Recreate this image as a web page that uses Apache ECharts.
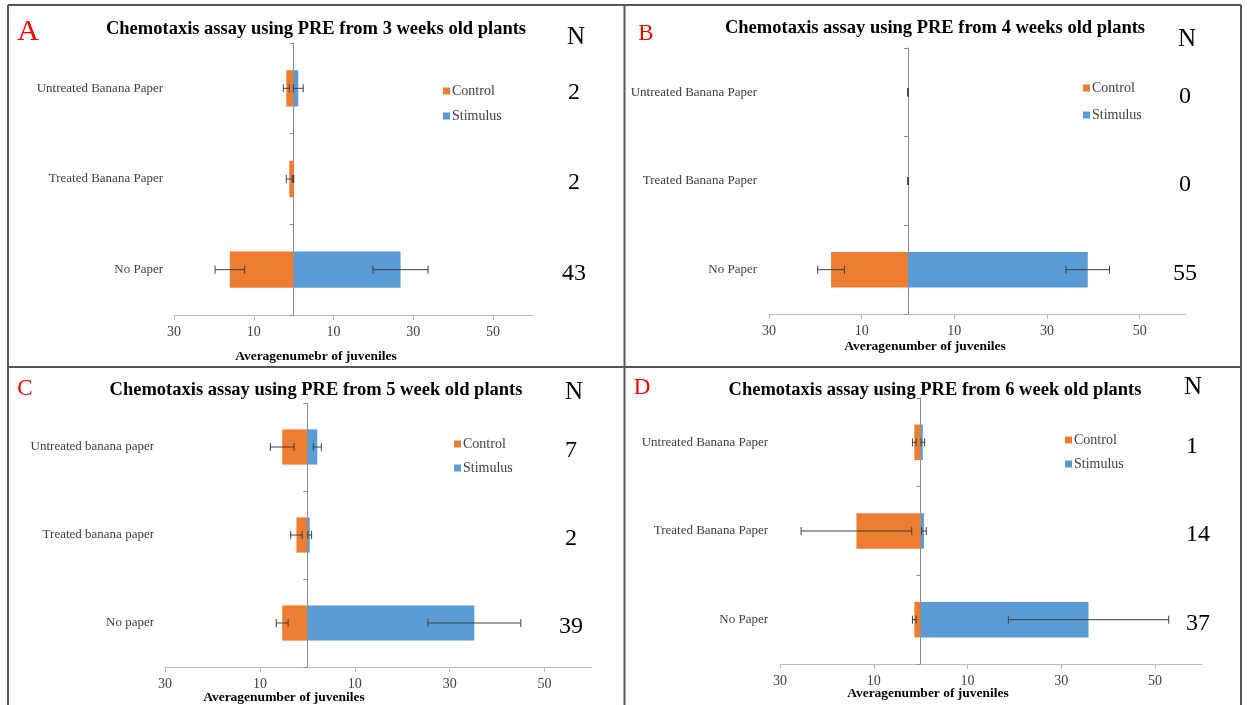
<!DOCTYPE html>
<html>
<head>
<meta charset="utf-8">
<script src="https://cdn.jsdelivr.net/npm/echarts@6/dist/echarts.min.js"></script>
<style>html,body{margin:0;padding:0;background:#fff}#c{width:1247px;height:705px}</style>
</head>
<body>
<div id="c"></div>
<script>
// ---------- DATA ----------
const categoriesCaps = ['Untreated Banana Paper', 'Treated Banana Paper', 'No Paper'];
const categoriesLower = ['Untreated banana paper', 'Treated banana paper', 'No paper'];
const tickValues = [-30, -10, 10, 30, 50];
const seriesNames = ['Control', 'Stimulus'];

// Panel A: 3 weeks
const controlA = [1.85, 1.1, 16.0];
const controlErrA = [0.75, 0.75, 3.7];
const stimulusA = [1.15, 0, 26.8];
const stimulusErrA = [1.25, 0, 6.9];
const nA = [2, 2, 43];

// Panel B: 4 weeks
const controlB = [0, 0, 16.6];
const controlErrB = [0, 0, 2.9];
const stimulusB = [0, 0, 38.8];
const stimulusErrB = [0, 0, 4.7];
const nB = [0, 0, 55];

// Panel C: 5 weeks
const controlC = [5.3, 2.3, 5.3];
const controlErrC = [2.5, 1.2, 1.25];
const stimulusC = [2.1, 0.5, 35.2];
const stimulusErrC = [0.85, 0.4, 9.8];
const nC = [7, 2, 39];

// Panel D: 6 weeks
const controlD = [1.35, 13.7, 1.35];
const controlErrD = [0.4, 11.8, 0.4];
const stimulusD = [0.45, 0.7, 35.8];
const stimulusErrD = [0.4, 0.5, 17.1];
const nD = [1, 14, 37];

// ---------- LAYOUT / STYLE ----------
const SERIF = '"Liberation Serif", "Times New Roman", serif';
const ORANGE = '#ED7D31', BLUE = '#5B9BD5';

const panels = [
  { letter: 'A', title: 'Chemotaxis assay using PRE from 3 weeks old plants', axisName: 'Averagenumebr of juveniles',
    cats: categoriesCaps, control: controlA, controlErr: controlErrA, stimulus: stimulusA, stimulusErr: stimulusErrA, n: nA,
    grid: { left: 174, top: 43, width: 359, height: 272 },
    letterPos: [28, 32, 30], titlePos: [316, 29], namePos: [316, 357], nHead: [576, 37],
    nX: 574, nAlign: 'center', legend: { left: 443, top: 84, gap: 11 }, catMargin: 11 },
  { letter: 'B', title: 'Chemotaxis assay using PRE from 4 weeks old plants', axisName: 'Averagenumber of juveniles',
    cats: categoriesCaps, control: controlB, controlErr: controlErrB, stimulus: stimulusB, stimulusErr: stimulusErrB, n: nB,
    grid: { left: 769, top: 48, width: 417, height: 266 },
    letterPos: [646, 34, 23], titlePos: [935, 28], namePos: [925, 347], nHead: [1187, 39],
    nX: 1185, nAlign: 'center', legend: { left: 1083, top: 81, gap: 13 }, catMargin: 12 },
  { letter: 'C', title: 'Chemotaxis assay using PRE from 5 week old plants', axisName: 'Averagenumber of juveniles',
    cats: categoriesLower, control: controlC, controlErr: controlErrC, stimulus: stimulusC, stimulusErr: stimulusErrC, n: nC,
    grid: { left: 165, top: 403, width: 427, height: 264 },
    letterPos: [25, 389, 23], titlePos: [316, 390], namePos: [284, 698], nHead: [574, 392],
    nX: 571, nAlign: 'center', legend: { left: 454, top: 437, gap: 10 }, catMargin: 11 },
  { letter: 'D', title: 'Chemotaxis assay using PRE from 6 week old plants', axisName: 'Averagenumber of juveniles',
    cats: categoriesCaps, control: controlD, controlErr: controlErrD, stimulus: stimulusD, stimulusErr: stimulusErrD, n: nD,
    grid: { left: 780, top: 398, width: 422, height: 266 },
    letterPos: [642, 388, 23], titlePos: [935, 390], namePos: [928, 694], nHead: [1193, 387],
    nX: 1186, nAlign: 'left', legend: { left: 1065, top: 433, gap: 10 }, catMargin: 12 }
];

function errRender(params, api) {
  const v = api.value(0), i = api.value(1), e = api.value(2);
  const p1 = api.coord([v - e, i]);
  const p2 = api.coord([v + e, i]);
  const h = 4;
  const style = { stroke: '#404040', lineWidth: 1 };
  return {
    type: 'group',
    children: [
      { type: 'line', shape: { x1: p1[0], y1: p1[1], x2: p2[0], y2: p2[1] }, style },
      { type: 'line', shape: { x1: p1[0], y1: p1[1] - h, x2: p1[0], y2: p1[1] + h }, style },
      { type: 'line', shape: { x1: p2[0], y1: p2[1] - h, x2: p2[0], y2: p2[1] + h }, style }
    ]
  };
}

const grid = [], xAxis = [], yAxis = [], series = [], legend = [], graphic = [];

panels.forEach((p, g) => {
  grid.push(Object.assign({ containLabel: false }, p.grid));
  xAxis.push({
    gridIndex: g, type: 'value', min: -30, max: 60,
    splitLine: { show: false },
    axisLine: { show: true, onZero: false, lineStyle: { color: '#bcbcbc', width: 1 } },
    axisTick: { show: true, customValues: tickValues, length: 5, lineStyle: { color: '#bcbcbc' } },
    axisLabel: { customValues: tickValues, formatter: v => String(Math.abs(v)), margin: 10,
      fontFamily: SERIF, fontSize: 14, color: '#404040' }
  });
  // category labels at grid left
  yAxis.push({
    gridIndex: g, type: 'category', data: p.cats, inverse: true, position: 'left',
    axisLine: { show: false, onZero: false }, axisTick: { show: false }, splitLine: { show: false },
    axisLabel: { margin: p.catMargin, fontFamily: SERIF, fontSize: 13, color: '#404040' }
  });
  // zero line
  yAxis.push({
    gridIndex: g, type: 'category', data: p.cats, inverse: true, position: 'left',
    axisLine: { show: true, onZero: true, lineStyle: { color: '#8c8c8c', width: 1 } },
    axisTick: { show: true, length: 4, lineStyle: { color: '#8c8c8c' } },
    axisLabel: { show: false }, splitLine: { show: false }
  });
  // N values
  const gridRight = p.grid.left + p.grid.width;
  yAxis.push({
    gridIndex: g, type: 'category', data: p.n.map((_, i) => 'n' + i), inverse: true, position: 'right',
    offset: p.nX - gridRight,
    axisLine: { show: false, onZero: false }, axisTick: { show: false }, splitLine: { show: false },
    axisLabel: { margin: 0, align: p.nAlign, verticalAlign: 'top', lineHeight: 8,
      formatter: (v, idx) => String(p.n[idx]),
      fontFamily: SERIF, fontSize: 24, color: '#000' }
  });

  series.push({
    name: seriesNames[0], type: 'bar', xAxisIndex: g, yAxisIndex: g * 3, stack: 'tot' + g,
    barWidth: '40%', itemStyle: { color: ORANGE }, data: p.control.map(v => -v)
  });
  series.push({
    name: seriesNames[1], type: 'bar', xAxisIndex: g, yAxisIndex: g * 3, stack: 'tot' + g,
    barWidth: '40%', itemStyle: { color: BLUE }, data: p.stimulus.slice()
  });
  series.push({
    name: 'errC' + g, type: 'custom', xAxisIndex: g, yAxisIndex: g * 3, renderItem: errRender, z: 5,
    encode: { x: 0, y: 1 }, data: p.control.map((v, i) => [-v, i, p.controlErr[i]])
  });
  series.push({
    name: 'errS' + g, type: 'custom', xAxisIndex: g, yAxisIndex: g * 3, renderItem: errRender, z: 5,
    encode: { x: 0, y: 1 }, data: p.stimulus.map((v, i) => [v, i, p.stimulusErr[i]])
  });

  legend.push({
    data: seriesNames, orient: 'vertical', left: p.legend.left, top: p.legend.top, padding: 0,
    itemWidth: 7, itemHeight: 7, itemGap: p.legend.gap, icon: 'rect', selectedMode: false,
    textStyle: { fontFamily: SERIF, fontSize: 14, color: '#404040', padding: [0, 0, 0, -3] }
  });

  graphic.push({ type: 'text', x: p.letterPos[0], y: p.letterPos[1],
    style: { text: p.letter, fill: '#ff0000', font: p.letterPos[2] + 'px ' + SERIF, textAlign: 'center', textVerticalAlign: 'middle' } });
  graphic.push({ type: 'text', x: p.titlePos[0], y: p.titlePos[1],
    style: { text: p.title, fill: '#000', font: 'bold 18.5px ' + SERIF, textAlign: 'center', textVerticalAlign: 'middle' } });
  graphic.push({ type: 'text', x: p.namePos[0], y: p.namePos[1],
    style: { text: p.axisName, fill: '#000', font: 'bold 13.5px ' + SERIF, textAlign: 'center', textVerticalAlign: 'middle' } });
  graphic.push({ type: 'text', x: p.nHead[0], y: p.nHead[1],
    style: { text: 'N', fill: '#000', font: '25px ' + SERIF, textAlign: 'center', textVerticalAlign: 'middle' } });
});

// panel frame lines
const frameStyle = { stroke: '#555555', lineWidth: 2 };
[
  [8, 5, 1241, 5], [8, 5, 8, 705], [1241, 5, 1241, 705],
  [624.5, 5, 624.5, 705], [8, 367, 1241, 367]
].forEach(l => graphic.push({ type: 'line', shape: { x1: l[0], y1: l[1], x2: l[2], y2: l[3] }, style: frameStyle, z: 10 }));

const chart = echarts.init(document.getElementById('c'), null, { renderer: 'canvas' });
chart.setOption({
  backgroundColor: '#ffffff',
  animation: false,
  grid, xAxis, yAxis, series, legend, graphic
});
</script>
</body>
</html>
